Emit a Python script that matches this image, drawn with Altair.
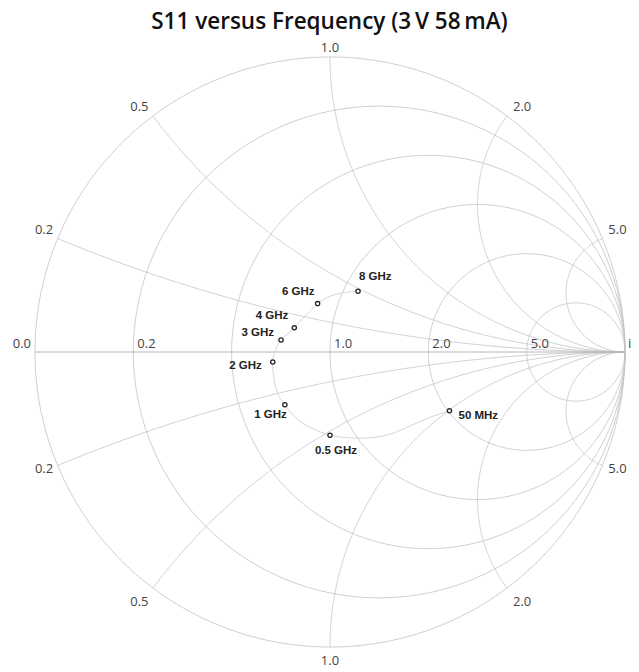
import altair as alt
import numpy as np
import pandas as pd

# ---------------- data ----------------
title_text = "S11 versus Frequency (3\u2009V 58\u2009mA)"

# Smith chart grid values
resistance_values = [0.0, 0.2, 0.5, 1.0, 2.0, 5.0]
reactance_values = [0.2, 0.5, 1.0, 2.0, 5.0]
real_axis_labels = ["0.0", "0.2", "1.0", "2.0", "5.0", "inf"]
real_axis_values = [0.0, 0.2, 1.0, 2.0, 5.0, np.inf]

# S11 markers (reflection coefficient)
freq_labels = ["50 MHz", "0.5 GHz", "1 GHz", "2 GHz", "3 GHz", "4 GHz", "6 GHz", "8 GHz"]
s11_re = [0.405, 0.000, -0.153, -0.194, -0.166, -0.121, -0.042, 0.095]
s11_im = [-0.199, -0.282, -0.179, -0.034, 0.041, 0.082, 0.164, 0.206]

# full S11 trace
trace_re = [0.405, 0.335, 0.267, 0.199, 0.132, 0.064, 0.000, -0.037, -0.095, -0.132,
            -0.153, -0.176, -0.189, -0.194, -0.182, -0.166, -0.121, -0.091, -0.064,
            -0.042, -0.007, 0.037, 0.095]
trace_im = [-0.199, -0.223, -0.253, -0.280, -0.291, -0.291, -0.282, -0.269, -0.240, -0.206,
            -0.179, -0.145, -0.095, -0.034, 0.014, 0.041, 0.082, 0.115, 0.142,
            0.164, 0.186, 0.200, 0.206]

# ---------------- geometry helpers ----------------
def gamma(z):
    return (z - 1) / (z + 1)

rows = []
gid = 0
t = np.linspace(0, 2 * np.pi, 481)
for r in resistance_values:
    c = r / (1 + r)
    rad = 1 / (1 + r)
    for k, tt in enumerate(t):
        rows.append({"gx": c + rad * np.cos(tt), "gy": rad * np.sin(tt), "grp": gid, "ord": k})
    gid += 1
rr = np.append(np.tan(np.linspace(0, np.pi / 2, 500, endpoint=False)), 1e7)
for xv in reactance_values:
    for s in (1, -1):
        g = gamma(rr + 1j * s * xv)
        for k, gg in enumerate(g):
            rows.append({"gx": gg.real, "gy": gg.imag, "grp": gid, "ord": k})
        gid += 1
grid_df = pd.DataFrame(rows)
axis_df = pd.DataFrame({"gx": [-1.0, 1.0], "gy": [0.0, 0.0]})

# real-axis labels
ra = []
for lab, v in zip(real_axis_labels, real_axis_values):
    gx = 1.0 if np.isinf(v) else (v - 1) / (v + 1)
    ra.append({"gx": gx, "gy": 0.0, "lab": lab})
ra_df = pd.DataFrame(ra)

# reactance labels around the rim (anchored at the rim crossing)
rim = []
for xv in reactance_values:
    for s in (1, -1):
        p = gamma(1j * s * xv)
        if abs(p.real) < 0.02:
            al = "center"
        elif p.real < 0:
            al = "right"
        else:
            al = "left"
        if p.imag > 0:
            pos = "upper"
        elif abs(p.imag) < 0.5:
            pos = "lower_side"
        else:
            pos = "lower"
        rim.append({"gx": p.real, "gy": p.imag, "lab": f"{xv:.1f}", "al": al, "pos": pos})
rim_df = pd.DataFrame(rim)

marker_df = pd.DataFrame({"gx": s11_re, "gy": s11_im, "lab": freq_labels})
trace_df = pd.DataFrame({"gx": trace_re, "gy": trace_im, "ord": list(range(len(trace_re)))})

# ---------------- scales ----------------
xs = alt.Scale(domain=[-1.0915, 1.0203], nice=False, zero=False)
ys = alt.Scale(domain=[-1.0847, 1.0576], nice=False, zero=False)
X = alt.X("gx:Q", scale=xs, axis=None)
Y = alt.Y("gy:Q", scale=ys, axis=None)

FONT = "Open Sans"

grid = alt.Chart(grid_df).mark_line(stroke="#c2c2c2", strokeWidth=0.8).encode(
    x=X, y=Y, detail="grp:N", order="ord:Q")
axis_line = alt.Chart(axis_df).mark_line(stroke="#b0b0b0", strokeWidth=0.9).encode(x=X, y=Y)

layers = [grid, axis_line]

# real-axis labels
for lab_set, al, dx in [(["0.0"], "right", -4), (["0.2", "1.0", "2.0", "5.0"], "left", 4), (["inf"], "left", 3)]:
    layers.append(
        alt.Chart(ra_df).transform_filter(alt.FieldOneOfPredicate(field="lab", oneOf=lab_set))
        .mark_text(align=al, baseline="alphabetic", dx=dx, dy=-4, font=FONT, fontSize=13, color="#444444")
        .encode(x=X, y=Y, text="lab:N"))

# rim labels
pos_style = {"upper": ("alphabetic", -5), "lower": ("top", 8), "lower_side": ("top", -2)}
al_dx = {"left": 6, "right": -4.5, "center": 0}
for al in ["left", "right", "center"]:
    for pos, (bl, dy) in pos_style.items():
        sub = rim_df[(rim_df.al == al) & (rim_df.pos == pos)]
        if len(sub) == 0:
            continue
        layers.append(
            alt.Chart(rim_df).transform_filter(
                (alt.datum.al == al) & (alt.datum.pos == pos))
            .mark_text(align=al, baseline=bl, dx=al_dx[al], dy=dy,
                       font=FONT, fontSize=13, color="#444444")
            .encode(x=X, y=Y, text="lab:N"))

trace = alt.Chart(trace_df).mark_line(stroke="#d6d6d6", strokeWidth=1, interpolate="catmull-rom").encode(
    x=X, y=Y, order="ord:Q")
layers.append(trace)

markers = alt.Chart(marker_df).mark_point(shape="circle", size=18, filled=False, fill="white",
                                           fillOpacity=1, stroke="#222222", strokeWidth=1.3, opacity=1).encode(x=X, y=Y)
layers.append(markers)

label_style = {
    "8 GHz": ("left", 1, -14),
    "6 GHz": ("right", -3, -12),
    "4 GHz": ("right", -6, -12),
    "3 GHz": ("right", -7, -7),
    "2 GHz": ("right", -11, 4),
    "1 GHz": ("right", 2, 10),
    "0.5 GHz": ("center", 6, 16),
    "50 MHz": ("left", 9, 5),
}
for lab, (al, dx, dy) in label_style.items():
    layers.append(
        alt.Chart(marker_df).transform_filter(alt.datum.lab == lab)
        .mark_text(align=al, baseline="middle", dx=dx, dy=dy, font="Liberation Sans",
                   fontWeight="bold", fontSize=11.5, color="#222222")
        .encode(x=X, y=Y, text="lab:N"))

chart = alt.layer(*layers).properties(
    width=623, height=632,
    title=alt.TitleParams(title_text, font=FONT, fontSize=22.5, fontWeight=600,
                          color="#111111", anchor="middle", dx=10, offset=7),
    autosize=alt.AutoSizeParams(type="none"),
    padding={"left": 0, "top": 32, "right": 0, "bottom": 0},
    background="white",
).configure_view(stroke=None)

chart.save("out.html", embed_options={"renderer": "svg", "actions": False})
